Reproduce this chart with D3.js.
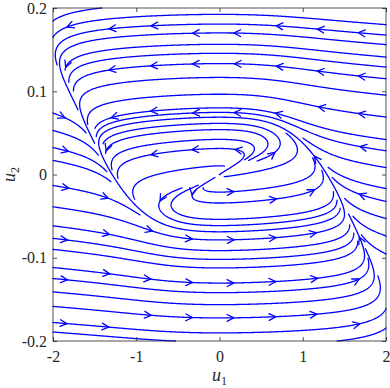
<!DOCTYPE html>
<html>
<head>
<meta charset="utf-8">
<script src="https://cdn.jsdelivr.net/npm/d3@7/dist/d3.min.js"></script>
<style>
  body { margin: 0; background: #fff; }
</style>
</head>
<body>
<svg id="chart" width="390" height="388"></svg>
<script>
// axis ranges and ticks
var u1Domain = [-2, 2];
var u2Domain = [-0.2, 0.2];
var u1Ticks = [-2, -1, 0, 1, 2];
var u2Ticks = [-0.2, -0.1, 0, 0.1, 0.2];

// vector field: u1' = a*u1 - b*u1^3 + c*u1^5 - u2 ; u2' = eps*u1
var curveCoef = [0.085, 0.0673, 0.00687];
var slowRate = [0.0013];

// streamslice grids (start cells, fine cells, arrow cells)
var startCells = 20;
var fineCells = 80;
var arrowCells = 8;

(function() {
  var FONT = "'Liberation Serif', 'DejaVu Serif', serif";
  var svg = d3.select("#chart");
  var pL = 53, pR = 386, pT = 8, pB = 341;

  var x = d3.scaleLinear().domain(u1Domain).range([pL, pR]);
  var y = d3.scaleLinear().domain(u2Domain).range([pB, pT]);

  var spanX = u1Domain[1] - u1Domain[0];
  var spanY = u2Domain[1] - u2Domain[0];

  function field(u1, u2) {
    var s = u1 * u1;
    var g = u1 * (curveCoef[0] - curveCoef[1] * s + curveCoef[2] * s * s);
    return [g - u2, slowRate[0] * u1];
  }

  // unit direction in normalised [0,1]x[0,1] space
  function dir(X, Y) {
    var f = field(u1Domain[0] + X * spanX, u2Domain[0] + Y * spanY);
    var dx = f[0] / spanX, dy = f[1] / spanY;
    var m = Math.sqrt(dx * dx + dy * dy);
    if (m < 1e-9) return null;
    return [dx / m, dy / m];
  }

  var fine = new Int32Array(fineCells * fineCells);
  var startGrid = new Uint8Array(startCells * startCells);

  function fineCell(X, Y) {
    var c = Math.min(fineCells - 1, Math.floor(X * fineCells));
    var r = Math.min(fineCells - 1, Math.floor(Y * fineCells));
    return r * fineCells + c;
  }
  function startCell(X, Y) {
    var c = Math.min(startCells - 1, Math.floor(X * startCells));
    var r = Math.min(startCells - 1, Math.floor(Y * startCells));
    return r * startCells + c;
  }

  var h = 0.002;

  function trace(X0, Y0, sgn, id) {
    var pts = [];
    var X = X0, Y = Y0;
    var cell = fineCell(X, Y);
    var stay = 0;
    for (var s = 0; s < 4000; s++) {
      var d1 = dir(X, Y);
      if (!d1) break;
      var d2 = dir(X + sgn * h / 2 * d1[0], Y + sgn * h / 2 * d1[1]);
      if (!d2) break;
      var Xn = X + sgn * h * d2[0], Yn = Y + sgn * h * d2[1];
      if (Xn < 0 || Xn > 1 || Yn < 0 || Yn > 1) {
        pts.push([Math.max(0, Math.min(1, Xn)), Math.max(0, Math.min(1, Yn))]);
        break;
      }
      var c = fineCell(Xn, Yn);
      if (c !== cell) {
        if (fine[c]) break;
        fine[c] = id;
        cell = c;
        stay = 0;
      } else if (++stay > 60) break;
      X = Xn; Y = Yn;
      pts.push([X, Y]);
      startGrid[startCell(X, Y)] = 1;
    }
    return pts;
  }

  // deterministic scattered order of start cells
  var nStart = startCells * startCells;
  var order = d3.range(nStart).map(function(k) { return (k * 157) % nStart; });

  var streams = [];
  var id = 1;
  order.forEach(function(k) {
    if (startGrid[k]) return;
    startGrid[k] = 1;
    var c = k % startCells, r = Math.floor(k / startCells);
    var X0 = (c + 0.5) / startCells, Y0 = (r + 0.5) / startCells;
    var fc = fineCell(X0, Y0);
    if (fine[fc]) return;
    fine[fc] = id;
    var fwd = trace(X0, Y0, 1, id);
    var bwd = trace(X0, Y0, -1, id);
    var pts = bwd.reverse().concat([[X0, Y0]], fwd);
    if (pts.length > 3) {
      streams.push(pts.map(function(p) {
        return [u1Domain[0] + p[0] * spanX, u2Domain[0] + p[1] * spanY];
      }));
    }
    id++;
  });

  var plot = svg.append("g");

  var line = d3.line()
    .x(function(d) { return x(d[0]); })
    .y(function(d) { return y(d[1]); });

  plot.selectAll(".stream")
    .data(streams)
    .enter()
    .append("path")
    .attr("class", "stream")
    .attr("d", line)
    .attr("fill", "none")
    .attr("stroke", "#0000ff")
    .attr("stroke-width", 1.3)
    .attr("stroke-linejoin", "round")
    .attr("stroke-linecap", "round");

  // arrows: one per arrow cell, at the stream point closest to the anchor
  var cw = (pR - pL) / arrowCells;
  var best = {};
  streams.forEach(function(s, si) {
    for (var i = 4; i < s.length - 4; i++) {
      var px = x(s[i][0]), py = y(s[i][1]);
      var c = Math.min(arrowCells - 1, Math.floor((px - pL) / cw));
      var r = Math.min(arrowCells - 1, Math.floor((py - pT) / cw));
      var ax = pL + (c + 0.35) * cw, ay = pT + (r + 0.5) * cw;
      var dd = Math.hypot(px - ax, py - ay);
      var key = r * arrowCells + c;
      if (dd < 0.3 * cw && (!best[key] || dd < best[key].d)) {
        best[key] = { d: dd, s: si, i: i };
      }
    }
  });

  var arrows = Object.keys(best).map(function(k) {
    var b = best[k], s = streams[b.s];
    var p0 = s[b.i - 3], p1 = s[b.i], p2 = s[b.i + 3];
    var ang = Math.atan2(y(p2[1]) - y(p0[1]), x(p2[0]) - x(p0[0]));
    return { px: x(p1[0]), py: y(p1[1]), ang: ang };
  });

  var armLen = 7.5, armAng = 27 * Math.PI / 180;
  plot.selectAll(".arrow")
    .data(arrows)
    .enter()
    .append("path")
    .attr("class", "arrow")
    .attr("d", function(a) {
      var b1 = a.ang + Math.PI - armAng, b2 = a.ang + Math.PI + armAng;
      return "M" + (a.px + armLen * Math.cos(b1)) + "," + (a.py + armLen * Math.sin(b1)) +
        "L" + a.px + "," + a.py +
        "L" + (a.px + armLen * Math.cos(b2)) + "," + (a.py + armLen * Math.sin(b2));
    })
    .attr("fill", "none")
    .attr("stroke", "#0000ff")
    .attr("stroke-width", 1.3)
    .attr("stroke-linejoin", "miter")
    .attr("stroke-linecap", "round");

  // axes (ticks inside, box on)
  var fmt = function(d) { return String(d); };
  var axisColor = "#262626";

  var xAxis = svg.append("g").attr("transform", "translate(0," + pB + ")")
    .call(d3.axisBottom(x).tickValues(u1Ticks).tickFormat(fmt).tickSizeInner(-4).tickSizeOuter(0).tickPadding(10));
  var xAxisTop = svg.append("g").attr("transform", "translate(0," + pT + ")")
    .call(d3.axisTop(x).tickValues(u1Ticks).tickFormat("").tickSizeInner(-4).tickSizeOuter(0));
  var yAxis = svg.append("g").attr("transform", "translate(" + pL + ",0)")
    .call(d3.axisLeft(y).tickValues(u2Ticks).tickFormat(fmt).tickSizeInner(-4).tickSizeOuter(0).tickPadding(6));
  var yAxisRight = svg.append("g").attr("transform", "translate(" + pR + ",0)")
    .call(d3.axisRight(y).tickValues(u2Ticks).tickFormat("").tickSizeInner(-4).tickSizeOuter(0));

  [xAxis, xAxisTop, yAxis, yAxisRight].forEach(function(a) {
    a.attr("font-family", null).attr("font-size", null);
    a.select(".domain").remove();
    a.selectAll("line").attr("stroke", axisColor).attr("stroke-width", 0.8);
    a.selectAll("text").attr("fill", axisColor)
      .style("font-family", FONT).style("font-size", "16px");
  });

  svg.append("rect")
    .attr("x", pL).attr("y", pT)
    .attr("width", pR - pL).attr("height", pB - pT)
    .attr("fill", "none")
    .attr("stroke", axisColor)
    .attr("stroke-width", 0.8);

  // axis labels
  var xl = svg.append("text")
    .attr("x", (pL + pR) / 2).attr("y", 381)
    .attr("text-anchor", "middle")
    .attr("fill", axisColor)
    .style("font-family", FONT)
    .style("font-size", "18px");
  xl.append("tspan").attr("font-style", "italic").text("u");
  xl.append("tspan").style("font-size", "12px").attr("dy", 4).text("1");

  var yl = svg.append("text")
    .attr("transform", "translate(15," + ((pT + pB) / 2) + ") rotate(-90)")
    .attr("text-anchor", "middle")
    .attr("fill", axisColor)
    .style("font-family", FONT)
    .style("font-size", "18px");
  yl.append("tspan").attr("font-style", "italic").text("u");
  yl.append("tspan").style("font-size", "12px").attr("dy", 4).text("2");
})();
</script>
</body>
</html>
